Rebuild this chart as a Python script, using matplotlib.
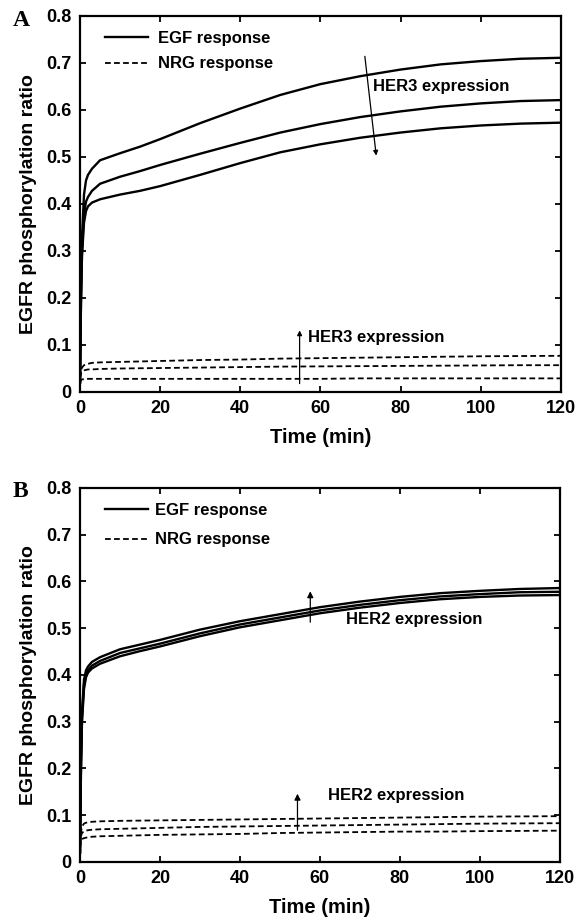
import matplotlib
matplotlib.use("Agg")
import matplotlib.pyplot as plt

# ---------------- data ----------------
time = [0, 0.25, 0.5, 1, 1.5, 2, 3, 5, 10, 15, 20, 30, 40, 50, 60, 70, 80, 90, 100, 110, 120]

# Panel A: EGF response for three HER3 expression levels
a_egf_1 = [0.02, 0.22, 0.33, 0.42, 0.45, 0.462, 0.475, 0.493, 0.508, 0.522, 0.538, 0.572, 0.603, 0.632, 0.655, 0.672, 0.686, 0.697, 0.704, 0.709, 0.711]
a_egf_2 = [0.02, 0.20, 0.30, 0.38, 0.405, 0.415, 0.428, 0.443, 0.458, 0.470, 0.483, 0.507, 0.530, 0.552, 0.570, 0.585, 0.597, 0.607, 0.614, 0.619, 0.621]
a_egf_3 = [0.02, 0.19, 0.29, 0.36, 0.385, 0.395, 0.403, 0.410, 0.420, 0.428, 0.438, 0.462, 0.487, 0.510, 0.527, 0.541, 0.552, 0.561, 0.567, 0.571, 0.573]
# Panel A: NRG response
a_nrg_1 = [0.03, 0.045, 0.052, 0.057, 0.059, 0.060, 0.062, 0.063, 0.064, 0.065, 0.066, 0.068, 0.069, 0.071, 0.072, 0.073, 0.074, 0.075, 0.076, 0.0765, 0.077]
a_nrg_2 = [0.03, 0.040, 0.044, 0.046, 0.047, 0.048, 0.048, 0.049, 0.050, 0.0505, 0.051, 0.052, 0.053, 0.054, 0.0545, 0.055, 0.0555, 0.056, 0.0565, 0.057, 0.057]
a_nrg_3 = [0.02, 0.025, 0.027, 0.027, 0.028, 0.028, 0.028, 0.028, 0.028, 0.028, 0.028, 0.028, 0.028, 0.028, 0.028, 0.029, 0.029, 0.029, 0.029, 0.029, 0.029]

# Panel B: EGF response for three HER2 expression levels
b_egf_1 = [0.02, 0.22, 0.32, 0.39, 0.41, 0.418, 0.428, 0.438, 0.455, 0.465, 0.475, 0.497, 0.515, 0.530, 0.545, 0.557, 0.567, 0.575, 0.580, 0.584, 0.586]
b_egf_2 = [0.02, 0.21, 0.31, 0.38, 0.40, 0.410, 0.420, 0.430, 0.447, 0.457, 0.467, 0.489, 0.508, 0.523, 0.538, 0.550, 0.560, 0.568, 0.573, 0.577, 0.578]
b_egf_3 = [0.02, 0.20, 0.30, 0.37, 0.395, 0.405, 0.414, 0.424, 0.440, 0.451, 0.461, 0.483, 0.502, 0.517, 0.532, 0.544, 0.554, 0.562, 0.567, 0.570, 0.571]
# Panel B: NRG response
b_nrg_1 = [0.04, 0.065, 0.076, 0.082, 0.084, 0.085, 0.086, 0.087, 0.088, 0.0885, 0.089, 0.090, 0.091, 0.092, 0.093, 0.094, 0.095, 0.096, 0.097, 0.0975, 0.098]
b_nrg_2 = [0.035, 0.055, 0.062, 0.066, 0.067, 0.068, 0.069, 0.070, 0.071, 0.072, 0.073, 0.075, 0.076, 0.077, 0.078, 0.079, 0.080, 0.081, 0.082, 0.0825, 0.083]
b_nrg_3 = [0.03, 0.045, 0.049, 0.051, 0.052, 0.053, 0.054, 0.055, 0.056, 0.057, 0.058, 0.059, 0.060, 0.062, 0.063, 0.064, 0.065, 0.065, 0.066, 0.0665, 0.067]

x_ticks = [0, 20, 40, 60, 80, 100, 120]
y_ticks = [0, 0.1, 0.2, 0.3, 0.4, 0.5, 0.6, 0.7, 0.8]
y_ticklabels = ["0", "0.1", "0.2", "0.3", "0.4", "0.5", "0.6", "0.7", "0.8"]

# ---------------- figure ----------------
plt.rcParams['font.family'] = ['Liberation Sans', 'DejaVu Sans']
plt.rcParams['font.weight'] = 'bold'

fig = plt.figure(figsize=(5.78, 9.23), dpi=100)
axA = fig.add_axes([0.1384, 0.5753, 0.832, 0.4074])
axB = fig.add_axes([0.1384, 0.0661, 0.830, 0.4052])

dash = (0, (3.2, 1.8))


def style(ax):
    ax.set_xlim(0, 120)
    ax.set_ylim(0, 0.8)
    ax.set_xticks(x_ticks)
    ax.set_xticklabels([str(v) for v in x_ticks])
    ax.set_yticks(y_ticks)
    ax.set_yticklabels(y_ticklabels)
    ax.tick_params(direction='in', top=True, right=True, length=4, width=1.3,
                   labelsize=13, pad=6)
    for lab in ax.get_xticklabels() + ax.get_yticklabels():
        lab.set_fontweight('bold')
    for s in ax.spines.values():
        s.set_linewidth(1.6)
    ax.set_xlabel("Time (min)", fontsize=14.5, fontweight='bold', labelpad=8)
    ax.set_ylabel("EGFR phosphorylation ratio", fontsize=14, fontweight='bold', labelpad=7)


# Panel A
for i, y in enumerate([a_egf_1, a_egf_2, a_egf_3]):
    axA.plot(time, y, color='black', lw=1.7, label="EGF response" if i == 0 else None)
for i, y in enumerate([a_nrg_1, a_nrg_2, a_nrg_3]):
    axA.plot(time, y, color='black', lw=1.3, ls=dash, label="NRG response" if i == 0 else None)
style(axA)
axA.annotate("", xy=(74, 0.497), xytext=(71, 0.72),
             arrowprops=dict(arrowstyle='-|>', color='black', lw=0.9, mutation_scale=7))
axA.text(73, 0.649, "HER3 expression", fontsize=12, fontweight='bold', va='center', ha='left')
axA.annotate("", xy=(54.8, 0.137), xytext=(54.8, 0.012),
             arrowprops=dict(arrowstyle='-|>', color='black', lw=0.9, mutation_scale=7))
axA.text(57, 0.115, "HER3 expression", fontsize=12, fontweight='bold', va='center', ha='left')
axA.legend(loc='upper left', bbox_to_anchor=(0.02, 1.0), frameon=False,
           handlelength=2.6, handletextpad=0.6, labelspacing=0.63,
           prop={'weight': 'bold', 'size': 12})
fig.text(0.0225, 0.978, "A", fontsize=17, fontweight='bold', family='Liberation Serif',
         ha='left', va='center')

# Panel B
for i, y in enumerate([b_egf_1, b_egf_2, b_egf_3]):
    axB.plot(time, y, color='black', lw=1.7, label="EGF response" if i == 0 else None)
for i, y in enumerate([b_nrg_1, b_nrg_2, b_nrg_3]):
    axB.plot(time, y, color='black', lw=1.3, ls=dash, label="NRG response" if i == 0 else None)
style(axB)
axB.annotate("", xy=(57.6, 0.585), xytext=(57.6, 0.507),
             arrowprops=dict(arrowstyle='-|>', color='black', lw=0.9, mutation_scale=9))
axB.text(66.5, 0.518, "HER2 expression", fontsize=12, fontweight='bold', va='center', ha='left')
axB.annotate("", xy=(54.4, 0.152), xytext=(54.4, 0.062),
             arrowprops=dict(arrowstyle='-|>', color='black', lw=0.9, mutation_scale=9))
axB.text(62, 0.143, "HER2 expression", fontsize=12, fontweight='bold', va='center', ha='left')
axB.legend(loc='upper left', bbox_to_anchor=(0.02, 1.0), frameon=False,
           handlelength=2.6, handletextpad=0.4, labelspacing=0.87,
           prop={'weight': 'bold', 'size': 12})
fig.text(0.0225, 0.467, "B", fontsize=17, fontweight='bold', family='Liberation Serif',
         ha='left', va='center')

fig.savefig("out.png", dpi=100)
